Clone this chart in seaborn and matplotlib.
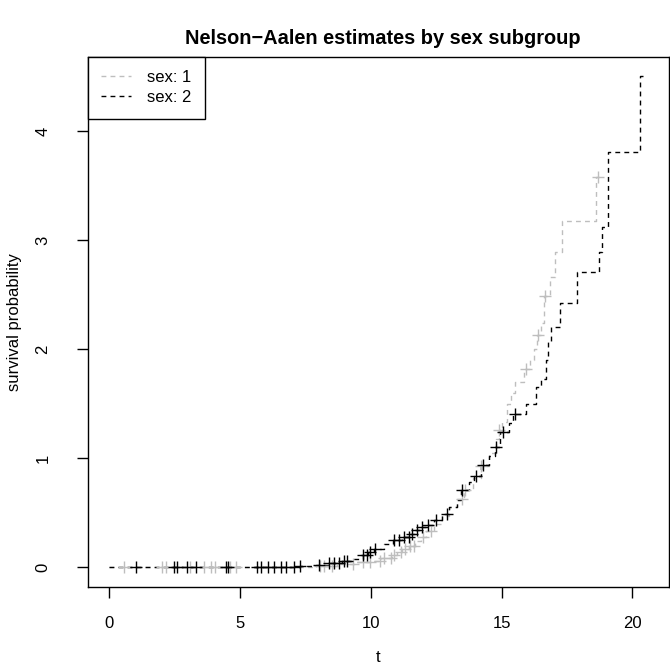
import numpy as np
import pandas as pd
import matplotlib
matplotlib.use("Agg")
import matplotlib.pyplot as plt
import seaborn as sns
from matplotlib.lines import Line2D

# ---- data ----
title = "Nelson\u2212Aalen estimates by sex subgroup"
x_label = "t"
y_label = "survival probability"
groups = ["sex: 1", "sex: 2"]

# sex 1 step function (time, cumulative hazard after step)
s1_time = [0, 7.9, 8.7, 9.4, 10.0, 10.4, 10.8, 11.0, 11.2, 11.45, 11.7, 11.9, 12.1,
           12.4, 12.7, 13.0, 13.3, 13.55, 13.9, 14.2, 14.5, 14.8, 14.88, 15.0, 15.2,
           15.35, 15.5, 15.84, 16.1, 16.25, 16.35, 16.5, 16.62, 16.85, 17.05, 17.3,
           18.6, 18.72]
s1_haz = [0, 0.01, 0.03, 0.05, 0.06, 0.09, 0.11, 0.14, 0.17, 0.20, 0.24, 0.28, 0.33,
          0.40, 0.47, 0.55, 0.63, 0.71, 0.82, 0.93, 1.05, 1.18, 1.26, 1.33, 1.50,
          1.60, 1.70, 1.82, 1.90, 2.00, 2.13, 2.24, 2.49, 2.66, 2.89, 3.18,
          3.58, 3.58]
s1_cens = [0.55, 2.0, 2.15, 3.1, 3.6, 3.9, 4.05, 4.6, 4.85, 8.05, 8.2, 8.5, 9.3,
           9.7, 9.95, 10.35, 10.5, 10.75, 10.9, 11.15, 11.3, 11.5, 11.65, 12.0,
           12.3, 13.5, 13.6, 14.2, 14.9, 15.95, 16.4, 16.64, 18.7]

# sex 2 step function
s2_time = [0, 7.3, 7.9, 8.4, 8.9, 9.3, 9.7, 9.9, 10.1, 10.5, 10.85, 11.2, 11.5, 11.7,
           11.9, 12.15, 12.4, 12.7, 13.0, 13.3, 13.45, 13.75, 13.95, 14.2, 14.5,
           14.75, 14.95, 15.3, 15.45, 15.95, 16.3, 16.5, 16.7, 16.78, 16.9, 17.25,
           17.9, 18.72, 18.85, 19.08, 20.3, 20.5]
s2_haz = [0, 0.01, 0.02, 0.04, 0.06, 0.08, 0.11, 0.14, 0.17, 0.21, 0.25, 0.28, 0.31,
          0.34, 0.37, 0.39, 0.43, 0.49, 0.55, 0.62, 0.71, 0.78, 0.84, 0.94, 1.02,
          1.10, 1.24, 1.32, 1.41, 1.50, 1.65, 1.73, 1.90, 2.08, 2.20, 2.42,
          2.71, 2.89, 3.12, 3.81, 4.51, 4.51]
s2_cens = [1.0, 2.45, 2.6, 2.95, 3.3, 4.45, 4.55, 5.65, 5.8, 6.05, 6.3, 6.55, 6.75,
           7.06, 7.3, 8.0, 8.4, 8.6, 8.78, 8.97, 9.1, 9.7, 9.85, 9.95, 10.15, 10.9,
           11.07, 11.26, 11.45, 11.57, 11.76, 11.95, 12.2, 12.5, 12.9, 13.47, 14.0,
           14.27, 14.8, 15.07, 15.5]

x_ticks = [0, 5, 10, 15, 20]
y_ticks = [0, 1, 2, 3, 4]

# ---- style ----
sns.set_style("ticks")
plt.rcParams["font.family"] = ["Liberation Sans", "DejaVu Sans"]
plt.rcParams["text.color"] = "black"
plt.rcParams["axes.labelcolor"] = "black"
colors = ["#BEBEBE", "#000000"]
FS = 12

fig = plt.figure(figsize=(6.7, 6.72), dpi=100)
ax = fig.add_axes([88 / 670, (672 - 587) / 672, 581 / 670, (587 - 57) / 672])


def censor_y(times, haz, cens):
    idx = np.searchsorted(times, cens, side="right") - 1
    return np.asarray(haz)[idx]


for g, t, h, c, col in [(groups[0], s1_time, s1_haz, s1_cens, colors[0]),
                        (groups[1], s2_time, s2_haz, s2_cens, colors[1])]:
    df = pd.DataFrame({"t": t, "h": h})
    sns.lineplot(data=df, x="t", y="h", ax=ax, drawstyle="steps-post",
                 color=col, linewidth=1.0, dashes=False, estimator=None,
                 sort=False)
    ax.lines[-1].set_dashes((3.5, 3.0))
    cdf = pd.DataFrame({"t": c, "h": censor_y(t, h, c)})
    sns.scatterplot(data=cdf, x="t", y="h", ax=ax, marker="+", s=85,
                    color=col, linewidth=1.0, zorder=3)

ax.set_xlim(-0.82, 21.4)
ax.set_ylim(-0.18, 4.68)
ax.set_xticks(x_ticks)
ax.set_yticks(y_ticks)
ax.set_xticklabels([str(v) for v in x_ticks])
ax.set_yticklabels([str(v) for v in y_ticks], rotation=90, va="center")
ax.tick_params(axis="both", direction="out", length=8, width=1, labelsize=FS,
               color="black", labelcolor="black")
ax.tick_params(axis="x", pad=13)
ax.tick_params(axis="y", pad=19)
for sp in ax.spines.values():
    sp.set_visible(True)
    sp.set_color("black")
    sp.set_linewidth(1.0)

ax.set_xlabel(x_label, fontsize=FS, va="center")
ax.xaxis.set_label_coords(0.5, (587 - 658) / 530)
ax.set_ylabel(y_label, fontsize=FS, va="center")
ax.yaxis.set_label_coords((15 - 88) / 581, 0.5)
fig.text(383 / 670, 1 - 38 / 672, title, ha="center", va="center",
         fontsize=14.4, fontweight="bold")

handles = [Line2D([0], [0], color=colors[0], lw=1.0, dashes=(3.5, 3.0)),
           Line2D([0], [0], color=colors[1], lw=1.0, dashes=(3.5, 3.0))]
leg = ax.legend(handles, groups, loc="upper left", bbox_to_anchor=(0, 1),
                borderaxespad=0, frameon=True, fancybox=False, framealpha=1,
                edgecolor="black", fontsize=FS, handlelength=1.8,
                borderpad=0.8, labelspacing=0.3, handletextpad=0.95)
leg.get_frame().set_linewidth(1.0)

fig.savefig("out.png", dpi=100)
